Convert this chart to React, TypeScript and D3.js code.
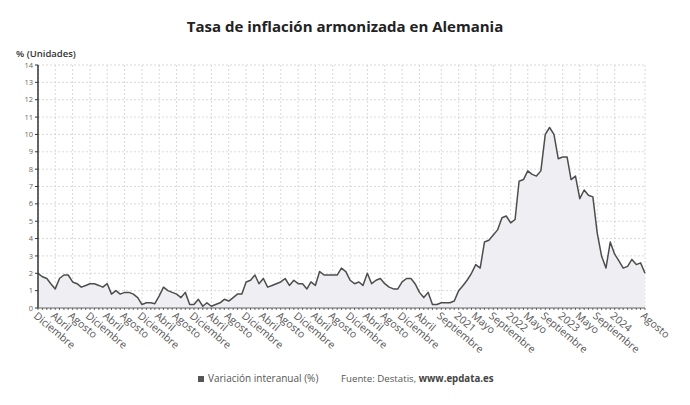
import * as d3 from "d3";

// Monthly series, first value = December 2012, last = August 2024
const startMonth = "2012-12";
const values = [
  2.0, 1.8, 1.7, 1.4, 1.1, 1.7, 1.9, 1.9, 1.5, 1.4, 1.2, 1.3,
  1.4, 1.4, 1.3, 1.2, 1.4, 0.8, 1.0, 0.8, 0.9, 0.9, 0.8, 0.6,
  0.2, 0.3, 0.3, 0.25, 0.7, 1.2, 1.0, 0.9, 0.8, 0.6, 0.9, 0.2,
  0.2, 0.5, 0.1, 0.3, 0.1, 0.2, 0.3, 0.5, 0.4, 0.6, 0.8, 0.8,
  1.5, 1.6, 1.9, 1.4, 1.7, 1.2, 1.3, 1.4, 1.5, 1.7, 1.3, 1.6,
  1.4, 1.4, 1.1, 1.5, 1.3, 2.1, 1.9, 1.9, 1.9, 1.9, 2.3, 2.1,
  1.6, 1.4, 1.5, 1.3, 2.0, 1.4, 1.6, 1.7, 1.4, 1.2, 1.1, 1.1,
  1.5, 1.7, 1.7, 1.4, 0.9, 0.6, 0.9, 0.2, 0.2, 0.3, 0.3, 0.3,
  0.4, 1.0, 1.3, 1.6, 2.0, 2.5, 2.3, 3.8, 3.9, 4.2, 4.5, 5.2,
  5.3, 4.9, 5.1, 7.3, 7.4, 7.9, 7.7, 7.6, 7.9, 10.0, 10.4, 10.0,
  8.6, 8.7, 8.7, 7.4, 7.6, 6.3, 6.8, 6.5, 6.4, 4.3, 3.0, 2.3,
  3.8, 3.1, 2.7, 2.3, 2.4, 2.8, 2.5, 2.6, 2.0,
];

const tickMonths = [
  "2012-12", "2013-04", "2013-08", "2013-12", "2014-04", "2014-08",
  "2014-12", "2015-04", "2015-08", "2015-12", "2016-04", "2016-08",
  "2016-12", "2017-04", "2017-08", "2017-12", "2018-04", "2018-08",
  "2018-12", "2019-04", "2019-08", "2019-12", "2020-04", "2020-09",
  "2021-01", "2021-05", "2021-09", "2022-01", "2022-05", "2022-09",
  "2023-01", "2023-05", "2023-09", "2024-01", "2024-08",
];
const tickLabels = [
  "Diciembre", "Abril", "Agosto", "Diciembre", "Abril", "Agosto",
  "Diciembre", "Abril", "Agosto", "Diciembre", "Abril", "Agosto",
  "Diciembre", "Abril", "Agosto", "Diciembre", "Abril", "Agosto",
  "Diciembre", "Abril", "Agosto", "Diciembre", "Abril", "Septiembre",
  "2021", "Mayo", "Septiembre", "2022", "Mayo", "Septiembre",
  "2023", "Mayo", "Septiembre", "2024", "Agosto",
];
const yTicks = d3.range(0, 15);

const W = 690;
const H = 405;
const margin = { top: 65, right: 45, bottom: 97, left: 38 };
const FONT = "'Open Sans', 'Noto Sans', sans-serif";

const parseMonth = d3.timeParse("%Y-%m");

export default function App() {
  const start = parseMonth(startMonth)!;
  const dates = values.map((_, i) => d3.timeMonth.offset(start, i));
  const ticks = tickMonths.map((m) => parseMonth(m)!);

  const x = d3
    .scaleTime()
    .domain([dates[0], dates[dates.length - 1]])
    .range([margin.left, W - margin.right]);
  const y = d3
    .scaleLinear()
    .domain([0, 14])
    .range([H - margin.bottom, margin.top]);

  const line = d3
    .line<number>()
    .x((_, i) => x(dates[i]))
    .y((d) => y(d));
  const area = d3
    .area<number>()
    .x((_, i) => x(dates[i]))
    .y0(y(0))
    .y1((d) => y(d));

  const x0 = margin.left;
  const x1 = W - margin.right;
  const yb = y(0);

  return (
    <svg
      width={W}
      height={H}
      style={{ position: "absolute", left: 0, top: 0, background: "#fff" }}
      fontFamily={FONT}
    >
      <text x={W / 2} y={32} textAnchor="middle" fontSize={15} fontWeight={700} fill="#222">
        Tasa de inflación armonizada en Alemania
      </text>
      <text x={16} y={57} fontSize={9.5} fontWeight={600} fill="#333">
        % (Unidades)
      </text>

      {/* grid */}
      <g stroke="#cfcfcf" strokeWidth={0.8} strokeDasharray="2,2">
        {yTicks.map((t) => (
          <line key={"h" + t} x1={x0} x2={x1} y1={y(t)} y2={y(t)} />
        ))}
        {ticks.map((t, i) => (
          <line key={"v" + i} x1={x(t)} x2={x(t)} y1={margin.top} y2={yb} />
        ))}
      </g>

      <path d={area(values)!} fill="#efeef3" />
      <path d={line(values)!} fill="none" stroke="#4d4d4d" strokeWidth={1.5} strokeLinejoin="round" />

      {/* y axis */}
      <line x1={x0} x2={x0} y1={margin.top} y2={yb} stroke="#333" strokeWidth={1.5} />
      {yTicks.map((t) => (
        <g key={"yt" + t}>
          <line x1={x0 - 3} x2={x0} y1={y(t)} y2={y(t)} stroke="#333" strokeWidth={1} />
          <text x={x0 - 5} y={y(t)} dy="0.35em" textAnchor="end" fontSize={7.5} fill="#666">
            {t}
          </text>
        </g>
      ))}

      {/* x axis */}
      <line x1={x0} x2={x1} y1={yb} y2={yb} stroke="#666" strokeWidth={1} />
      {dates.map((d, i) => (
        <line key={"mt" + i} x1={x(d)} x2={x(d)} y1={yb} y2={yb + 2} stroke="#444" strokeWidth={0.8} />
      ))}
      {ticks.map((t, i) => (
        <g key={"xl" + i} transform={`translate(${x(t)},${yb + 3}) rotate(40)`}>
          <text x={0} y={0} dy="0.75em" fontSize={10.5} fill="#555">
            {tickLabels[i]}
          </text>
        </g>
      ))}

      {/* legend + source */}
      <rect x={198} y={376} width={6} height={6} fill="#555" />
      <text x={208} y={382} fontSize={10} fill="#555">
        Variación interanual (%)
      </text>
      <text x={341} y={382} fontSize={9.7} fill="#555">
        Fuente: Destatis, <tspan fontWeight={700} fill="#444">www.epdata.es</tspan>
      </text>
    </svg>
  );
}
